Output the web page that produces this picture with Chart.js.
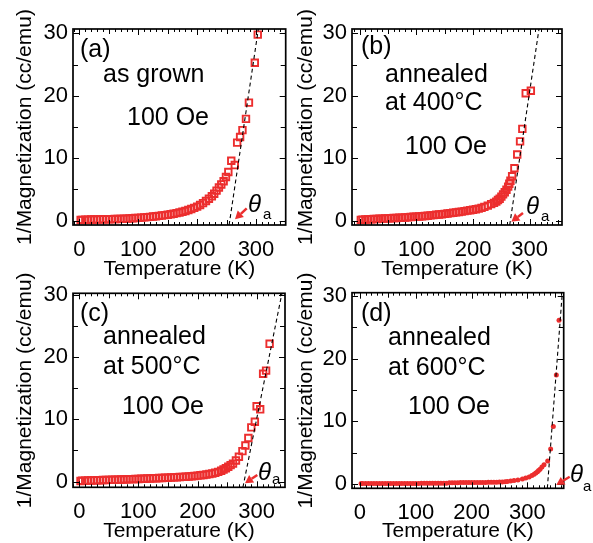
<!DOCTYPE html>
<html><head><meta charset="utf-8">
<script src="https://cdn.jsdelivr.net/npm/chart.js@4.4.0/dist/chart.umd.min.js"></script>
<style>
html,body{margin:0;padding:0;background:#fff;width:593px;height:543px;overflow:hidden;position:relative;}
canvas{position:absolute;}
</style></head><body>
<canvas id="ca" width="293" height="280" style="left:0;top:0"></canvas>
<canvas id="cb" width="300" height="280" style="left:293px;top:0"></canvas>
<canvas id="cc" width="293" height="273" style="left:0;top:270px"></canvas>
<canvas id="cd" width="300" height="273" style="left:293px;top:270px"></canvas>
<script>
// ---- data ----
const xTickValues = [0, 100, 200, 300];
const yTickValues = [0, 10, 20, 30];
const xTitle = 'Temperature (K)';
const yTitle = '1/Magnetization (cc/emu)';

const tempA = [2,5,10,15,20,25,30,35,40,45,50,55,60,65,70,75,80,85,90,95,100,105,110,115,120,125,130,135,140,145,150,155,160,165,170,175,180,185,190,195,200,205,210,215,220,225,229,233,237,241,245,249,253,258,264,268,273,277,283,288,298,303];
const invMA = [0.10,0.12,0.14,0.15,0.17,0.18,0.19,0.2,0.21,0.22,0.23,0.24,0.25,0.27,0.28,0.3,0.32,0.35,0.38,0.41,0.44,0.48,0.52,0.56,0.6,0.65,0.7,0.76,0.82,0.88,0.95,1.02,1.1,1.2,1.3,1.42,1.55,1.7,1.86,2.04,2.25,2.5,2.8,3.15,3.5,3.9,4.3,4.8,5.3,5.8,6.3,7.0,7.8,9.6,8.9,12.5,13.4,14.5,16.3,18.9,25.3,29.8];
const fitTA = [254.3, 304];
const fitMA = [-0.7, 30.7];

const tempB = [2,5,10,15,20,25,30,35,40,45,50,55,60,65,70,75,80,85,90,95,100,105,110,115,120,125,130,135,140,145,150,155,160,165,170,175,180,185,190,195,200,205,210,215,220,226,232,237,241,244,247,250,253,256,259,262,264,266,269,273,278,283,287,293,302];
const invMB = [0.12,0.14,0.17,0.2,0.22,0.25,0.27,0.3,0.32,0.34,0.36,0.38,0.41,0.43,0.46,0.48,0.51,0.54,0.57,0.61,0.64,0.67,0.71,0.75,0.79,0.84,0.88,0.93,0.98,1.03,1.08,1.14,1.2,1.26,1.32,1.38,1.45,1.52,1.6,1.67,1.75,1.83,1.92,2.05,2.2,2.4,2.65,2.85,3.05,3.3,3.5,3.85,4.2,4.55,4.95,5.45,5.9,6.4,7.1,8.4,10.6,12.7,14.7,20.4,20.8];
const fitTB = [264.7, 316.4];
const fitMB = [-0.7, 30.7];

const tempC = [2,5,10,15,20,25,30,35,40,45,50,55,60,65,70,75,80,85,90,95,100,105,110,115,120,125,130,135,140,145,150,155,160,165,170,175,180,185,190,195,200,205,210,215,220,225,230,235,240,244,248,252,256,260,265,270,276,281,286,291,297,300,306,311,316,322];
const invMC = [0.12,0.14,0.16,0.18,0.19,0.21,0.22,0.24,0.26,0.27,0.29,0.3,0.32,0.33,0.35,0.36,0.38,0.39,0.41,0.42,0.44,0.46,0.48,0.5,0.52,0.54,0.56,0.58,0.6,0.62,0.64,0.66,0.69,0.72,0.74,0.77,0.8,0.84,0.88,0.92,0.97,1.02,1.08,1.15,1.23,1.32,1.44,1.58,1.76,1.95,2.15,2.4,2.65,2.9,3.4,4.0,4.9,5.8,7.0,8.7,9.6,12.1,11.6,17.3,17.8,22.1];
const fitTC = [276.8, 342.8];
const fitMC = [-0.9, 30.2];

const tempD = [2,5,10,15,20,25,30,35,40,45,50,55,60,65,70,75,80,85,90,95,100,105,110,115,120,125,130,135,140,145,150,155,160,165,170,175,180,185,190,195,200,205,210,215,220,225,230,235,240,245,250,255,260,264,270,276,283,291,297,303,308,312,315,318,320,322.7,326,329.8,336.3,341.6,346.4,351.8,356.6];
const invMD = [0.1,0.1,0.1,0.1,0.1,0.11,0.11,0.11,0.11,0.11,0.12,0.12,0.12,0.12,0.12,0.12,0.13,0.13,0.13,0.13,0.13,0.13,0.14,0.14,0.14,0.14,0.14,0.14,0.15,0.15,0.15,0.15,0.25,0.25,0.25,0.25,0.26,0.26,0.26,0.26,0.27,0.27,0.27,0.28,0.28,0.29,0.3,0.31,0.32,0.33,0.35,0.37,0.39,0.42,0.5,0.58,0.68,0.83,0.98,1.15,1.38,1.6,1.8,2.0,2.2,2.4,2.75,3.1,3.7,5.6,9.2,17.4,26.1];
const fitTD = [335.7, 362.5];
const fitMD = [-0.65, 30.5];

const notesA = ['(a)', 'as grown', '100 Oe'];
const notesB = ['(b)', 'annealed', 'at 400°C', '100 Oe'];
const notesC = ['(c)', 'annealed', 'at 500°C', '100 Oe'];
const notesD = ['(d)', 'annealed', 'at 600°C', '100 Oe'];

// ---- style ----
const RED = 'rgb(236,46,46)';
const SANS = '"Liberation Sans", Arial, sans-serif';

const framePlugin = {
  id: 'frame',
  afterDraw(chart) {
    const o = chart.options.plugins.frame;
    const ctx = chart.ctx;
    const {left, right, top, bottom} = chart.chartArea;
    const xs = chart.scales.x, ys = chart.scales.y;
    ctx.save();
    ctx.strokeStyle = '#000';
    ctx.lineWidth = 1;
    ctx.beginPath();
    for (let v = Math.ceil(xs.min / 10) * 10; v <= xs.max; v += 10) {
      const px = Math.round(xs.getPixelForValue(v)) + 0.5;
      const len = (v % 100 === 0) ? 6 : ((v % 50 === 0) ? 5 : 3);
      ctx.moveTo(px, bottom); ctx.lineTo(px, bottom - len);
      ctx.moveTo(px, top); ctx.lineTo(px, top + len);
    }
    for (let v = Math.ceil(ys.min / 5) * 5; v <= ys.max; v += 5) {
      const py = Math.round(ys.getPixelForValue(v)) + 0.5;
      const len = (v % 10 === 0) ? 6 : 5;
      ctx.moveTo(left, py); ctx.lineTo(left + len, py);
      ctx.moveTo(right, py); ctx.lineTo(right - len, py);
    }
    ctx.stroke();
    ctx.lineWidth = 1.7;
    ctx.strokeRect(left, top, right - left, bottom - top);

    // annotations
    ctx.fillStyle = '#000';
    ctx.textBaseline = 'middle';
    ctx.textAlign = 'left';
    o.notes.forEach((t, i) => {
      const p = o.notePos[i];
      ctx.font = '25px ' + SANS;
      ctx.fillText(t, left + p[0], top + p[1]);
    });
    ctx.font = 'italic 24px ' + SANS;
    ctx.fillText('θ', left + o.theta[0], top + o.theta[1]);
    ctx.font = '15px ' + SANS;
    ctx.fillText('a', left + o.sub[0], top + o.sub[1]);

    // arrow
    const [x1, y1, x2, y2] = o.arrow.map((v, i) => v + (i % 2 === 0 ? left : top));
    const ang = Math.atan2(y2 - y1, x2 - x1);
    const hl = 8, hw = 4.5;
    const bx = x2 - hl * Math.cos(ang), by = y2 - hl * Math.sin(ang);
    ctx.strokeStyle = RED; ctx.fillStyle = RED; ctx.lineWidth = 2.5;
    ctx.beginPath(); ctx.moveTo(x1, y1); ctx.lineTo(bx, by); ctx.stroke();
    ctx.beginPath();
    ctx.moveTo(x2, y2);
    ctx.lineTo(bx + hw * Math.sin(ang), by - hw * Math.cos(ang));
    ctx.lineTo(bx - hw * Math.sin(ang), by + hw * Math.cos(ang));
    ctx.closePath(); ctx.fill();
    ctx.restore();
  }
};

function makePanel(cfg) {
  const pts = cfg.temps.map((t, i) => ({x: t, y: cfg.vals[i]}));
  const fit = cfg.fitT.map((t, i) => ({x: t, y: cfg.fitM[i]}));
  const filled = cfg.marker === 'circle';
  new Chart(document.getElementById(cfg.id), {
    type: 'scatter',
    data: {
      datasets: [
        {
          data: fit, showLine: true, borderColor: '#000', borderWidth: 1.1,
          borderDash: [4, 3], pointRadius: 0, fill: false
        },
        {
          data: pts, showLine: false,
          pointStyle: filled ? 'circle' : 'rect',
          pointRadius: filled ? 2.5 : 4.6,
          pointBorderWidth: filled ? 0 : 1.9,
          pointBorderColor: RED,
          pointBackgroundColor: filled ? RED : 'rgba(0,0,0,0)'
        }
      ]
    },
    options: {
      responsive: false, animation: false, events: [],
      layout: {padding: {left: 0, top: cfg.padTop, right: cfg.padRight, bottom: 0}},
      plugins: {
        legend: {display: false}, tooltip: {enabled: false},
        frame: {notes: cfg.notes, notePos: cfg.notePos, theta: cfg.theta, sub: cfg.sub, arrow: cfg.arrow}
      },
      scales: {
        x: {
          type: 'linear', min: cfg.xMin, max: cfg.xMax,
          grid: {display: false, drawTicks: false}, border: {display: false},
          afterBuildTicks: s => { s.ticks = xTickValues.map(v => ({value: v})); },
          afterFit: s => { s.height = cfg.xH; },
          ticks: {color: '#000', font: {family: SANS, size: 22}, padding: cfg.xTickPad, maxRotation: 0, autoSkip: false},
          title: {display: true, text: xTitle, color: '#000', font: {family: SANS, size: 21}, padding: {top: 0, bottom: cfg.xTitlePad}}
        },
        y: {
          type: 'linear', min: cfg.yMin, max: cfg.yMax,
          grid: {display: false, drawTicks: false}, border: {display: false},
          afterBuildTicks: s => { s.ticks = yTickValues.map(v => ({value: v})); },
          afterFit: s => { s.width = cfg.yW; },
          ticks: {color: '#000', font: {family: SANS, size: 22}, padding: 5, autoSkip: false},
          title: {display: true, text: yTitle, color: '#000', font: {family: SANS, size: 21}, padding: {top: cfg.yTitlePad, bottom: 0}}
        }
      }
    },
    plugins: [framePlugin]
  });
}

makePanel({id: 'ca', temps: tempA, vals: invMA, fitT: fitTA, fitM: fitMA, marker: 'rect',
  padTop: 29, padRight: 7.3, yW: 73, xH: 55, xMin: -11, xMax: 350.5, yMin: -0.7, yMax: 30.7,
  yTitlePad: 13, xTitlePad: -1.5, xTickPad: 12,
  notes: notesA, notePos: [[7, 21], [30, 46], [54, 89]],
  theta: [175, 176], sub: [190, 186], arrow: [173.7, 179.3, 162, 190.3]});

makePanel({id: 'cb', temps: tempB, vals: invMB, fitT: fitTB, fitM: fitMB, marker: 'rect',
  padTop: 29, padRight: 31, yW: 59, xH: 55, xMin: -13.6, xMax: 357, yMin: -0.7, yMax: 30.7,
  yTitlePad: 1, xTitlePad: -1.5, xTickPad: 12,
  notes: notesB, notePos: [[9, 18.5], [33, 46], [33, 74], [53, 118]],
  theta: [174, 178.5], sub: [189, 188], arrow: [171, 184, 159.3, 192.7]});

makePanel({id: 'cc', temps: tempC, vals: invMC, fitT: fitTC, fitM: fitMC, marker: 'rect',
  padTop: 23.3, padRight: 8, yW: 73, xH: 55.7, xMin: -10.7, xMax: 348, yMin: -0.9, yMax: 30.2,
  yTitlePad: 13, xTitlePad: -1, xTickPad: 11,
  notes: notesC, notePos: [[7, 20.7], [30, 43.4], [30, 73.4], [49, 113.4]],
  theta: [185, 180.2], sub: [199, 186.7], arrow: [184.3, 181.7, 172, 190]});

makePanel({id: 'cd', temps: tempD, vals: invMD, fitT: fitTD, fitM: fitMD, marker: 'circle',
  padTop: 22.7, padRight: 29.3, yW: 59, xH: 54.7, xMin: -14.3, xMax: 365, yMin: -0.65, yMax: 30.5,
  yTitlePad: 1, xTitlePad: -1, xTickPad: 11,
  notes: notesD, notePos: [[9, 21.3], [36, 45.3], [36, 75.3], [56, 114]],
  theta: [218, 182.3], sub: [231, 194.3], arrow: [217.7, 184, 204.3, 192.3]});
</script>
</body></html>
